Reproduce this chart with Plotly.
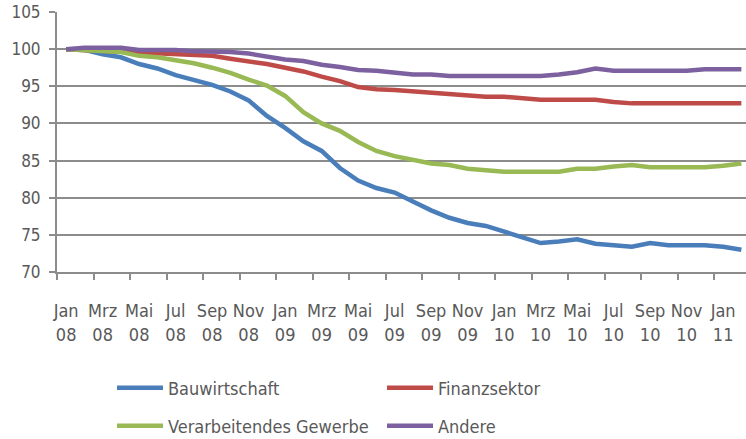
import plotly.graph_objects as go

months = ["Jan 08", "Feb 08", "Mrz 08", "Apr 08", "Mai 08", "Jun 08", "Jul 08", "Aug 08", "Sep 08", "Okt 08", "Nov 08", "Dez 08",
          "Jan 09", "Feb 09", "Mrz 09", "Apr 09", "Mai 09", "Jun 09", "Jul 09", "Aug 09", "Sep 09", "Okt 09", "Nov 09", "Dez 09",
          "Jan 10", "Feb 10", "Mrz 10", "Apr 10", "Mai 10", "Jun 10", "Jul 10", "Aug 10", "Sep 10", "Okt 10", "Nov 10", "Dez 10",
          "Jan 11", "Feb 11"]

bauwirtschaft = [100.0, 99.9, 99.3, 98.9, 98.0, 97.4, 96.5, 95.8, 95.2, 94.3, 93.1, 91.0,
                 89.4, 87.6, 86.3, 84.0, 82.3, 81.3, 80.7, 79.5, 78.3, 77.3, 76.6, 76.2,
                 75.4, 74.6, 73.9, 74.1, 74.4, 73.8, 73.6, 73.4, 73.9, 73.6, 73.6, 73.6,
                 73.4, 73.0]
finanzsektor = [100.0, 99.9, 99.8, 99.7, 99.5, 99.4, 99.4, 99.3, 99.1, 98.7, 98.4, 98.0,
                97.5, 97.0, 96.3, 95.7, 94.9, 94.6, 94.5, 94.3, 94.1, 93.9, 93.7, 93.6,
                93.6, 93.4, 93.2, 93.2, 93.2, 93.2, 92.9, 92.7, 92.7, 92.7, 92.7, 92.7,
                92.7, 92.7]
verarbeitendes = [100.0, 99.9, 99.8, 99.6, 99.1, 98.9, 98.5, 98.1, 97.5, 96.8, 95.9, 95.1,
                  93.7, 91.5, 90.0, 89.0, 87.5, 86.3, 85.6, 85.1, 84.6, 84.4, 83.9, 83.7,
                  83.5, 83.5, 83.5, 83.5, 83.9, 83.9, 84.2, 84.4, 84.1, 84.1, 84.1, 84.1,
                  84.3, 84.6]
andere = [100.0, 100.2, 100.2, 100.2, 99.9, 99.9, 99.9, 99.7, 99.7, 99.6, 99.4, 99.0,
          98.6, 98.4, 97.9, 97.6, 97.2, 97.1, 96.9, 96.6, 96.6, 96.4, 96.4, 96.4,
          96.4, 96.4, 96.4, 96.6, 96.9, 97.4, 97.1, 97.1, 97.1, 97.1, 97.1, 97.3,
          97.3, 97.3]

series_names = ["Bauwirtschaft", "Finanzsektor", "Verarbeitendes Gewerbe", "Andere"]
series_values = [bauwirtschaft, finanzsektor, verarbeitendes, andere]
colors = ["#4A7EBB", "#BE4B48", "#98B954", "#7D60A0"]
legends = ["legend", "legend", "legend2", "legend2"]

y_ticks = [70, 75, 80, 85, 90, 95, 100, 105]

FONT = "Liberation Sans Narrow, DejaVu Sans Condensed, Arial Narrow, sans-serif"
TXT = "#595959"
GRID = "#8C8C8C"

x = list(range(len(months)))
label_idx = [i for i in range(0, len(months), 2) if i <= 36]
tick_text = [months[i].replace(" ", "<br>") for i in label_idx]
minor_vals = [i - 0.5 for i in range(0, len(months), 2)]

fig = go.Figure()
for name, vals, col, lg in zip(series_names, series_values, colors, legends):
    fig.add_trace(go.Scatter(x=x, y=vals, mode="lines", name=name, legend=lg,
                             line=dict(color=col, width=4.5)))

legend_common = dict(orientation="h", x=(112 - 57) / 689, xanchor="left",
                     yref="container", yanchor="middle",
                     entrywidth=209, entrywidthmode="pixels", itemwidth=46,
                     font=dict(family=FONT, size=18, color=TXT),
                     bgcolor="rgba(0,0,0,0)", traceorder="normal")

fig.update_layout(
    width=746, height=439,
    margin=dict(l=57, r=0, t=12, b=167, autoexpand=False),
    paper_bgcolor="white", plot_bgcolor="white",
    font=dict(family=FONT, color=TXT, size=17),
    showlegend=True,
    legend=dict(y=1 - 388 / 439, **legend_common),
    legend2=dict(y=1 - 426 / 439, **legend_common),
)

fig.update_xaxes(
    range=[-0.5, -0.5 + 689 / 18.25], automargin=False,
    tickmode="array", tickvals=label_idx, ticktext=tick_text,
    ticks="", showgrid=False, zeroline=False,
    showline=True, linecolor=GRID, linewidth=1.5,
    tickfont=dict(family=FONT, size=18, color=TXT),
    ticklabelstandoff=22,
    minor=dict(tickmode="array", tickvals=minor_vals, ticks="outside",
               ticklen=6, tickcolor=GRID, tickwidth=1.5, showgrid=False),
)
fig.update_yaxes(
    range=[70, 105], automargin=False, tickmode="array", tickvals=y_ticks,
    ticks="outside", ticklen=6, tickcolor=GRID, tickwidth=1.5,
    showgrid=True, gridcolor=GRID, gridwidth=1.5, zeroline=False,
    showline=True, linecolor=GRID, linewidth=2,
    tickfont=dict(family=FONT, size=17, color=TXT),
    ticklabelstandoff=5,
)

fig.write_html("out.html", config={"displayModeBar": False},
               post_script="document.body.style.margin='0';document.body.style.padding='0';")
